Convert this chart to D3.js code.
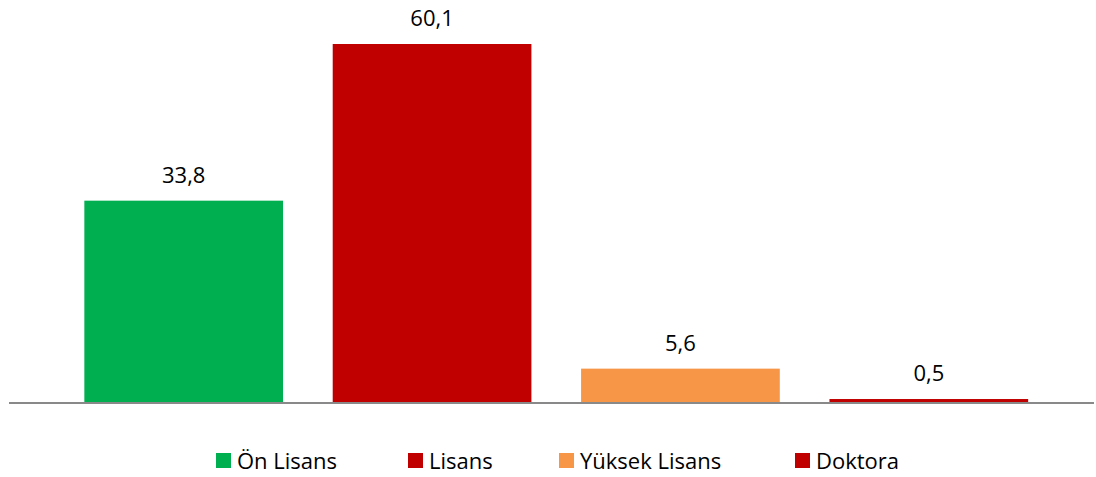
<!DOCTYPE html>
<html>
<head>
<meta charset="utf-8">
<script src="https://cdn.jsdelivr.net/npm/d3@7"></script>
<style>
  body { margin: 0; background: #fff; }
  text { font-family: "Open Sans", "DejaVu Sans", sans-serif; fill: #000; }
</style>
</head>
<body>
<svg id="chart" width="1096" height="477"></svg>
<script>
const categories = ["Ön Lisans", "Lisans", "Yüksek Lisans", "Doktora"];
const values = [33.8, 60.1, 5.6, 0.5];
const colors = ["#00b050", "#c00000", "#f79646", "#c00000"];

const width = 1096;
const height = 477;

const svg = d3.select("#chart");

const x = d3
  .scaleBand()
  .domain(categories)
  .range([59.5, 1053])
  .paddingInner(0.2)
  .paddingOuter(0.1);

const y = d3.scaleLinear().domain([0, 60.1]).range([402, 44]);

const data = categories.map((c, i) => ({ cat: c, value: values[i], color: colors[i] }));

svg
  .append("g")
  .selectAll("rect")
  .data(data)
  .join("rect")
  .attr("x", (d) => x(d.cat))
  .attr("y", (d) => y(d.value))
  .attr("width", x.bandwidth())
  .attr("height", (d) => y(0) - y(d.value))
  .attr("fill", (d) => d.color);

// baseline
svg
  .append("line")
  .attr("x1", 9)
  .attr("x2", 1094)
  .attr("y1", y(0) + 1)
  .attr("y2", y(0) + 1)
  .attr("stroke", "#898989")
  .attr("stroke-width", 2);

// value labels
svg
  .append("g")
  .selectAll("text")
  .data(data)
  .join("text")
  .attr("x", (d) => x(d.cat) + x.bandwidth() / 2)
  .attr("y", (d) => y(d.value) - 18)
  .attr("text-anchor", "middle")
  .style("font-size", "22px")
  .text((d) => d3.format(".1f")(d.value).replace(".", ","));

// legend
const legendX = [216, 408, 559, 795];
const legend = svg
  .append("g")
  .selectAll("g")
  .data(data)
  .join("g")
  .attr("transform", (d, i) => `translate(${legendX[i]},453)`);

legend.append("rect").attr("width", 15).attr("height", 15).attr("fill", (d) => d.color);

legend
  .append("text")
  .attr("x", 21)
  .attr("y", 15.5)
  .style("font-size", "22px")
  .text((d) => d.cat);
</script>
</body>
</html>
